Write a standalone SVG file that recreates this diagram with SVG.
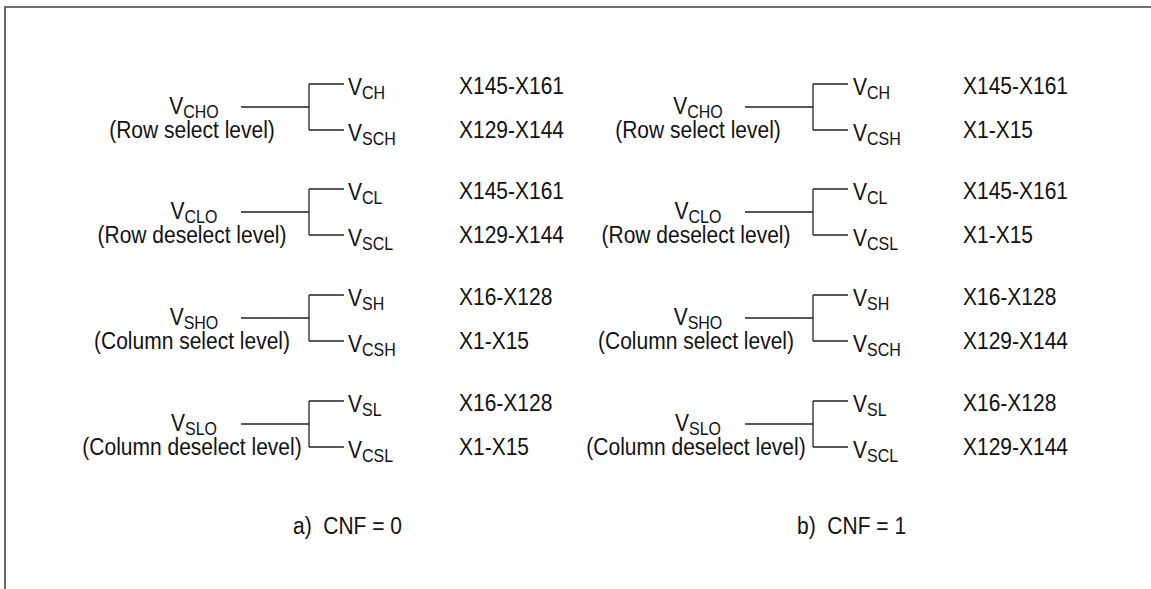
<svg xmlns="http://www.w3.org/2000/svg" width="1151" height="589" viewBox="0 0 1151 589">
<style>
text{font-family:"Liberation Sans",Arial,sans-serif;font-size:21px;fill:#111}
.m{text-anchor:middle}
.s{font-size:16px}
.c{fill:none;stroke:#222;stroke-width:1.3}
.f{fill:none;stroke:#444;stroke-width:1.6}
</style>
<rect width="1151" height="589" fill="#fff"/>
<path class="f" d="M5,589 V7 H1151"/>
<g id="connectors">
<path class="c" d="M241,107H309M309,84V130M309,84H344M309,130H344"/>
<path class="c" d="M241,212H309M309,189V235M309,189H344M309,235H344"/>
<path class="c" d="M241,318H309M309,295V341M309,295H344M309,341H344"/>
<path class="c" d="M241,424H309M309,401V447M309,401H344M309,447H344"/>
<path class="c" d="M745,107H813M813,84V130M813,84H848M813,130H848"/>
<path class="c" d="M745,212H813M813,189V235M813,189H848M813,235H848"/>
<path class="c" d="M745,318H813M813,295V341M813,295H848M813,341H848"/>
<path class="c" d="M745,424H813M813,401V447M813,401H848M813,447H848"/>
</g>
<g id="labels" transform="scale(1,1.1)">
<g id="a-cho"><text class="m" x="194" y="103.6">V<tspan class="s" dy="3.6">CHO</tspan></text><text class="m" x="192" y="125.5">(Row select level)</text></g>
<g id="a-ch"><text x="348" y="86.4">V<tspan class="s" dy="3.6">CH</tspan></text><text x="459" y="85.5">X145-X161</text></g>
<g id="a-sch"><text x="348" y="128.2">V<tspan class="s" dy="3.6">SCH</tspan></text><text x="459" y="125.5">X129-X144</text></g>
<g id="a-clo"><text class="m" x="194" y="199.1">V<tspan class="s" dy="3.6">CLO</tspan></text><text class="m" x="192" y="220.9">(Row deselect level)</text></g>
<g id="a-cl"><text x="348" y="181.8">V<tspan class="s" dy="3.6">CL</tspan></text><text x="459" y="180.9">X145-X161</text></g>
<g id="a-scl"><text x="348" y="223.6">V<tspan class="s" dy="3.6">SCL</tspan></text><text x="459" y="220.9">X129-X144</text></g>
<g id="a-sho"><text class="m" x="194" y="295.5">V<tspan class="s" dy="3.6">SHO</tspan></text><text class="m" x="192" y="317.3">(Column select level)</text></g>
<g id="a-sh"><text x="348" y="278.2">V<tspan class="s" dy="3.6">SH</tspan></text><text x="459" y="277.3">X16-X128</text></g>
<g id="a-csh"><text x="348" y="320">V<tspan class="s" dy="3.6">CSH</tspan></text><text x="459" y="317.3">X1-X15</text></g>
<g id="a-slo"><text class="m" x="194" y="391.8">V<tspan class="s" dy="3.6">SLO</tspan></text><text class="m" x="192" y="413.6">(Column deselect level)</text></g>
<g id="a-sl"><text x="348" y="374.5">V<tspan class="s" dy="3.6">SL</tspan></text><text x="459" y="373.6">X16-X128</text></g>
<g id="a-csl"><text x="348" y="416.4">V<tspan class="s" dy="3.6">CSL</tspan></text><text x="459" y="413.6">X1-X15</text></g>
<g id="b-cho"><text class="m" x="698" y="103.6">V<tspan class="s" dy="3.6">CHO</tspan></text><text class="m" x="698" y="125.5">(Row select level)</text></g>
<g id="b-ch"><text x="853" y="86.4">V<tspan class="s" dy="3.6">CH</tspan></text><text x="963" y="85.5">X145-X161</text></g>
<g id="b-csh"><text x="853" y="128.2">V<tspan class="s" dy="3.6">CSH</tspan></text><text x="963" y="125.5">X1-X15</text></g>
<g id="b-clo"><text class="m" x="698" y="199.1">V<tspan class="s" dy="3.6">CLO</tspan></text><text class="m" x="696" y="220.9">(Row deselect level)</text></g>
<g id="b-cl"><text x="853" y="181.8">V<tspan class="s" dy="3.6">CL</tspan></text><text x="963" y="180.9">X145-X161</text></g>
<g id="b-csl"><text x="853" y="223.6">V<tspan class="s" dy="3.6">CSL</tspan></text><text x="963" y="220.9">X1-X15</text></g>
<g id="b-sho"><text class="m" x="698" y="295.5">V<tspan class="s" dy="3.6">SHO</tspan></text><text class="m" x="696" y="317.3">(Column select level)</text></g>
<g id="b-sh"><text x="853" y="278.2">V<tspan class="s" dy="3.6">SH</tspan></text><text x="963" y="277.3">X16-X128</text></g>
<g id="b-sch"><text x="853" y="320">V<tspan class="s" dy="3.6">SCH</tspan></text><text x="963" y="317.3">X129-X144</text></g>
<g id="b-slo"><text class="m" x="698" y="391.8">V<tspan class="s" dy="3.6">SLO</tspan></text><text class="m" x="696" y="413.6">(Column deselect level)</text></g>
<g id="b-sl"><text x="853" y="374.5">V<tspan class="s" dy="3.6">SL</tspan></text><text x="963" y="373.6">X16-X128</text></g>
<g id="b-scl"><text x="853" y="416.4">V<tspan class="s" dy="3.6">SCL</tspan></text><text x="963" y="413.6">X129-X144</text></g>
<g id="cap-a"><text x="293" y="485.5" xml:space="preserve">a)  CNF = 0</text></g>
<g id="cap-b"><text x="797" y="485.5" xml:space="preserve">b)  CNF = 1</text></g>
</g>
</svg>
